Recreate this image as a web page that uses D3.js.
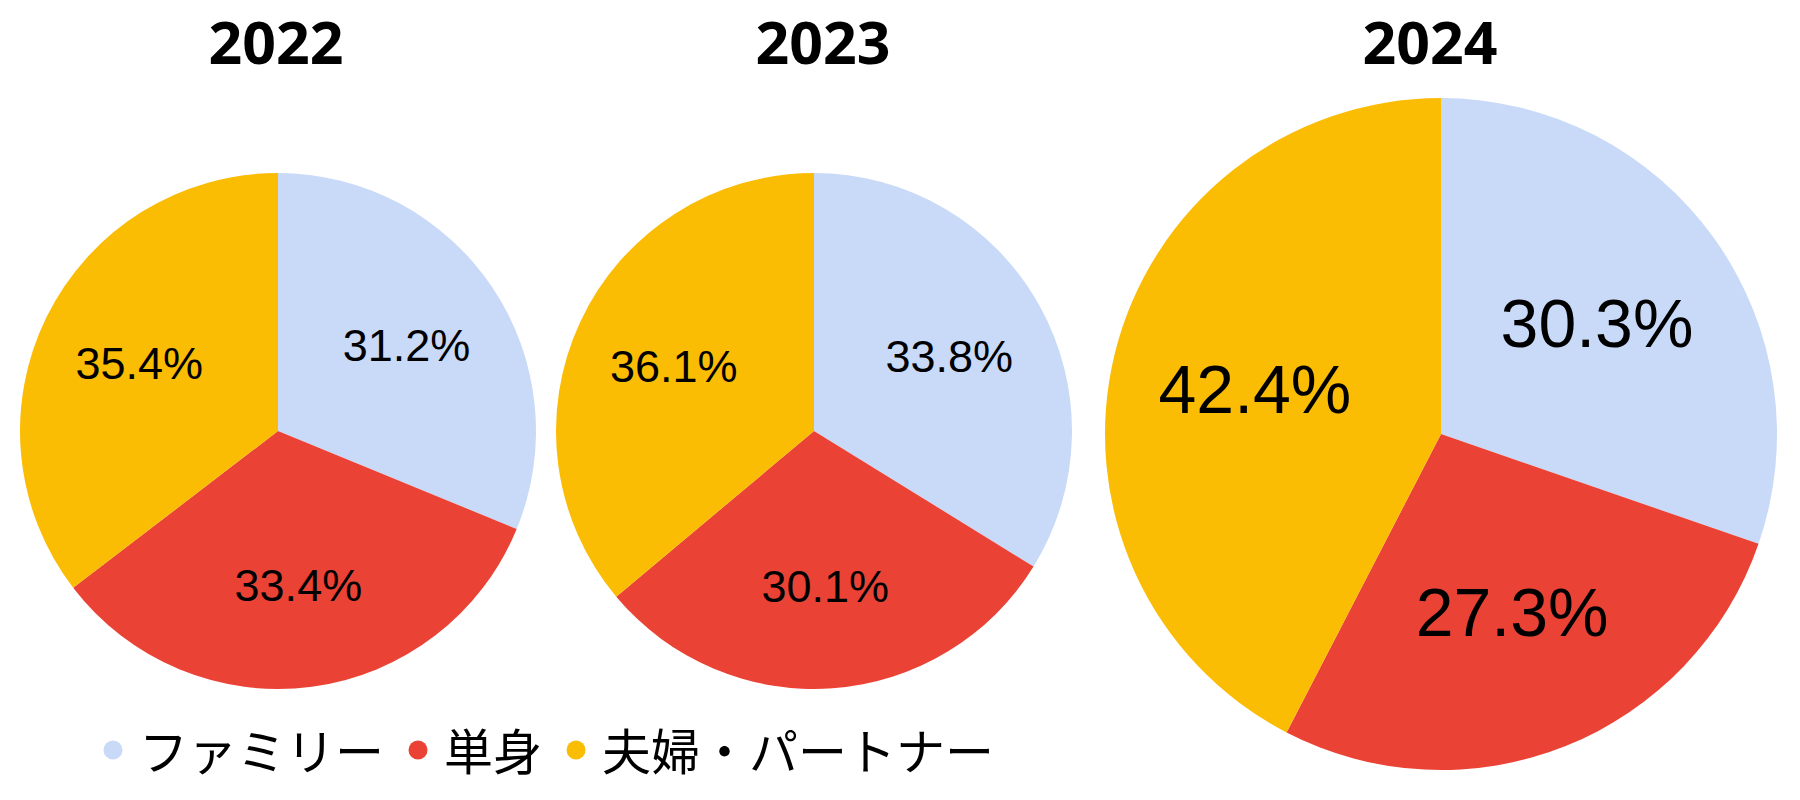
<!DOCTYPE html>
<html>
<head>
<meta charset="utf-8">
<script src="https://cdn.jsdelivr.net/npm/d3@7"></script>
<style>
  body { margin: 0; background: #fff; }
  svg { display: block; }
</style>
</head>
<body>
<script>
const svgWidth = 1800;
const svgHeight = 800;

// data
const years = ["2022", "2023", "2024"];
const categories = ["ファミリー", "単身", "夫婦・パートナー"];
const shares2022 = [31.2, 33.4, 35.4];
const shares2023 = [33.8, 30.1, 36.1];
const shares2024 = [30.3, 27.3, 42.4];
const colors = ["#c9daf8", "#ea4335", "#fbbc04"];

const allShares = [shares2022, shares2023, shares2024];

// layout per pie
const pieLayout = [
    {cx: 278, cy: 431, r: 258, font: 45, labelK: 0.6, titleX: 276},
    {cx: 814, cy: 431, r: 258, font: 45, labelK: 0.6, titleX: 823},
    {cx: 1441, cy: 434, r: 336, font: 68, labelK: 0.57, titleX: 1430}
];

const svg = d3
    .select("body")
    .append("svg")
    .attr("width", svgWidth)
    .attr("height", svgHeight);

const color = d3.scaleOrdinal().domain(categories).range(colors);

const pie = d3.pie()
    .sort(null)
    .value(d => d.value);

years.forEach((year, i) => {
    const lay = pieLayout[i];
    const data = categories.map((c, j) => ({cat: c, value: allShares[i][j]}));
    const arcs = pie(data);

    const arc = d3.arc().innerRadius(0).outerRadius(lay.r);
    const labelArc = d3.arc().innerRadius(lay.r * lay.labelK).outerRadius(lay.r * lay.labelK);

    const g = svg.append("g")
        .attr("transform", `translate(${lay.cx},${lay.cy})`);

    g.selectAll("path")
        .data(arcs)
        .enter()
        .append("path")
        .attr("d", arc)
        .attr("fill", d => color(d.data.cat));

    g.selectAll("text")
        .data(arcs)
        .enter()
        .append("text")
        .attr("transform", d => `translate(${labelArc.centroid(d)})`)
        .attr("text-anchor", "middle")
        .attr("dy", "0.36em")
        .style("font-family", "'Liberation Sans', Arial, sans-serif")
        .style("font-size", lay.font + "px")
        .attr("fill", "#000")
        .text(d => d.data.value.toFixed(1) + "%");

    svg.append("text")
        .attr("x", lay.titleX)
        .attr("y", 64)
        .attr("text-anchor", "middle")
        .style("font-family", "'Noto Sans', sans-serif")
        .style("font-weight", "bold")
        .style("font-size", "59px")
        .attr("fill", "#000")
        .text(year);
});

// legend
const legend = svg.append("g");
let lx = 113;
categories.forEach(c => {
    legend.append("circle")
        .attr("cx", lx)
        .attr("cy", 750)
        .attr("r", 9.5)
        .attr("fill", color(c));
    const t = legend.append("text")
        .attr("x", lx + 26)
        .attr("y", 748)
        .attr("dominant-baseline", "central")
        .style("font-family", "'Noto Sans CJK JP', sans-serif")
        .style("font-size", "49px")
        .attr("fill", "#000")
        .text(c);
    lx = lx + 26 + t.node().getComputedTextLength() + 34;
});
</script>
</body>
</html>
